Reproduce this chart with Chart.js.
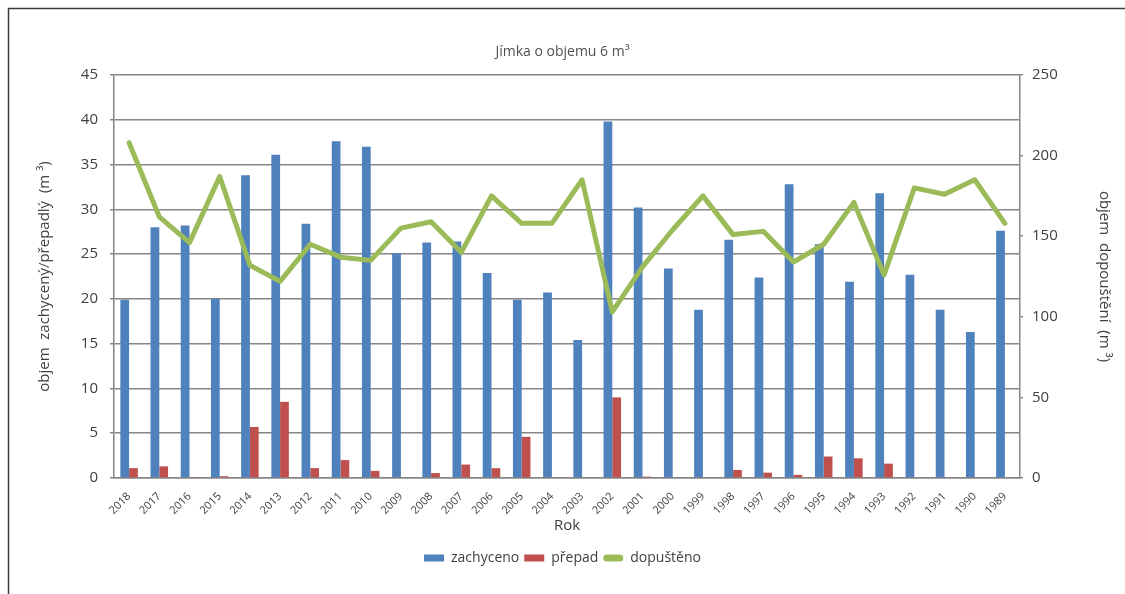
<!DOCTYPE html>
<html lang="cs">
<head>
<meta charset="utf-8">
<title>Jímka o objemu 6 m³</title>
<script src="https://cdn.jsdelivr.net/npm/chart.js@4.4.1/dist/chart.umd.min.js"></script>
<style>
  html, body { margin: 0; padding: 0; background: #ffffff; }
  #wrap { width: 1125px; height: 594px; }
</style>
</head>
<body>
<div id="wrap"><canvas id="c" width="1125" height="594"></canvas></div>
<script>
// Roky (kategorie osy x)
const roky = ['2018','2017','2016','2015','2014','2013','2012','2011','2010','2009',
              '2008','2007','2006','2005','2004','2003','2002','2001','2000','1999',
              '1998','1997','1996','1995','1994','1993','1992','1991','1990','1989'];

// Zachycený objem (m3) – levá osa
const zachyceno = [19.9, 28.0, 28.2, 20.0, 33.8, 36.1, 28.4, 37.6, 37.0, 25.1,
                   26.3, 26.4, 22.9, 19.9, 20.7, 15.4, 39.8, 30.2, 23.4, 18.8,
                   26.6, 22.4, 32.8, 26.1, 21.9, 31.8, 22.7, 18.8, 16.3, 27.6];

// Přepadlý objem (m3) – levá osa
const prepad = [1.1, 1.3, 0.05, 0.2, 5.7, 8.5, 1.1, 2.0, 0.8, 0,
                0.55, 1.5, 1.1, 4.6, 0, 0, 9.0, 0.15, 0, 0,
                0.9, 0.6, 0.35, 2.4, 2.2, 1.6, 0, 0, 0, 0];

// Objem dopouštění (m3) – pravá osa
const dopusteno = [208, 162, 146, 187, 132, 122, 145, 137, 135, 155,
                   159, 140, 175, 158, 158, 185, 103, 131, 154, 175,
                   151, 153, 134, 145, 171, 126, 180, 176, 185, 158];

// Rozsahy a kroky os
const levaOsa = { min: 0, max: 45, krok: 5 };
const pravaOsa = { min: 0, max: 250, krok: 50 };

const MODRA = '#4F81BD';
const CERVENA = '#C0504D';
const ZELENA = '#9BBB59';
const MRIZKA = '#868686';
const TEXT = '#404040';
const PISMO = "'Open Sans', 'Noto Sans', 'DejaVu Sans', sans-serif";

// Rámeček grafu (horní a levá hrana) a bílé pozadí
const ramecek = {
  id: 'ramecek',
  beforeDraw(chart) {
    const ctx = chart.ctx;
    ctx.save();
    ctx.fillStyle = '#ffffff';
    ctx.fillRect(0, 0, chart.width, chart.height);
    ctx.strokeStyle = '#3a3a3a';
    ctx.lineWidth = 1.5;
    ctx.beginPath();
    ctx.moveTo(8.5, chart.height + 2);
    ctx.lineTo(8.5, 8.5);
    ctx.lineTo(chart.width + 2, 8.5);
    ctx.stroke();
    ctx.restore();
  }
};

new Chart(document.getElementById('c'), {
  type: 'bar',
  data: {
    labels: roky,
    datasets: [
      {
        label: 'zachyceno',
        data: zachyceno,
        backgroundColor: MODRA,
        yAxisID: 'y',
        order: 2,
        categoryPercentage: 0.58,
        barPercentage: 1.0
      },
      {
        label: 'přepad',
        data: prepad,
        backgroundColor: CERVENA,
        yAxisID: 'y',
        order: 2,
        categoryPercentage: 0.58,
        barPercentage: 1.0
      },
      {
        type: 'line',
        label: 'dopuštěno',
        data: dopusteno,
        borderColor: ZELENA,
        backgroundColor: ZELENA,
        borderWidth: 5,
        pointRadius: 0,
        pointHoverRadius: 0,
        tension: 0,
        borderJoinStyle: 'round',
        borderCapStyle: 'round',
        yAxisID: 'y1',
        order: 1
      }
    ]
  },
  options: {
    responsive: false,
    devicePixelRatio: 1,
    animation: false,
    layout: { padding: { left: 0, right: 0, top: 0, bottom: 19 } },
    plugins: {
      tooltip: { enabled: false },
      title: {
        display: true,
        text: 'Jímka o objemu 6 m³',
        color: '#505050',
        font: { family: PISMO, size: 14, weight: 'normal', lineHeight: 1.2 },
        padding: { top: 43.6, bottom: 14.6 }
      },
      legend: {
        position: 'bottom',
        labels: {
          font: { family: PISMO, size: 14 },
          color: TEXT,
          boxWidth: 20,
          boxHeight: 7,
          padding: 5,
          useBorderRadius: true,
          generateLabels: (chart) => chart.data.datasets.map((ds, i) => ({
            text: ds.label,
            fillStyle: ds.type === 'line' ? ds.borderColor : ds.backgroundColor,
            strokeStyle: ds.type === 'line' ? ds.borderColor : ds.backgroundColor,
            lineWidth: 0,
            borderRadius: ds.type === 'line' ? 3.5 : 0,
            fontColor: TEXT,
            hidden: false,
            datasetIndex: i
          }))
        }
      }
    },
    scales: {
      x: {
        grid: { display: false },
        border: { display: true, color: MRIZKA, width: 1.5 },
        ticks: {
          color: TEXT,
          font: { family: PISMO, size: 11 },
          maxRotation: 45,
          minRotation: 45,
          autoSkip: false,
          padding: 4
        },
        title: {
          display: true,
          text: 'Rok',
          color: TEXT,
          font: { family: PISMO, size: 15, lineHeight: 1.2 },
          padding: { top: 0, bottom: 11 }
        },
        afterFit: (s) => { s.height = 68; }
      },
      y: {
        position: 'left',
        min: levaOsa.min,
        max: levaOsa.max,
        ticks: {
          stepSize: levaOsa.krok,
          color: TEXT,
          font: { family: PISMO, size: 15 },
          padding: 12
        },
        grid: { color: MRIZKA, lineWidth: 1.5, tickLength: 4, drawTicks: true },
        border: { display: true, color: MRIZKA, width: 1.5 },
        title: {
          display: true,
          text: 'objem  zachycený/přepadlý  (m ³)',
          color: TEXT,
          font: { family: PISMO, size: 15, lineHeight: 1.2 },
          padding: { top: 36, bottom: 0 }
        },
        afterFit: (s) => { s.width = 114; }
      },
      y1: {
        position: 'right',
        min: pravaOsa.min,
        max: pravaOsa.max,
        ticks: {
          stepSize: pravaOsa.krok,
          color: TEXT,
          font: { family: PISMO, size: 15 },
          padding: 9
        },
        grid: { drawOnChartArea: false, color: MRIZKA, lineWidth: 1.5, tickLength: 3 },
        border: { display: true, color: MRIZKA, width: 1.5 },
        title: {
          display: true,
          text: 'objem  dopouštění  (m ³)',
          color: TEXT,
          font: { family: PISMO, size: 15, lineHeight: 1.2 },
          padding: { top: 12, bottom: 0 }
        },
        afterFit: (s) => { s.width = 105; }
      }
    }
  },
  plugins: [ramecek]
});
</script>
</body>
</html>
